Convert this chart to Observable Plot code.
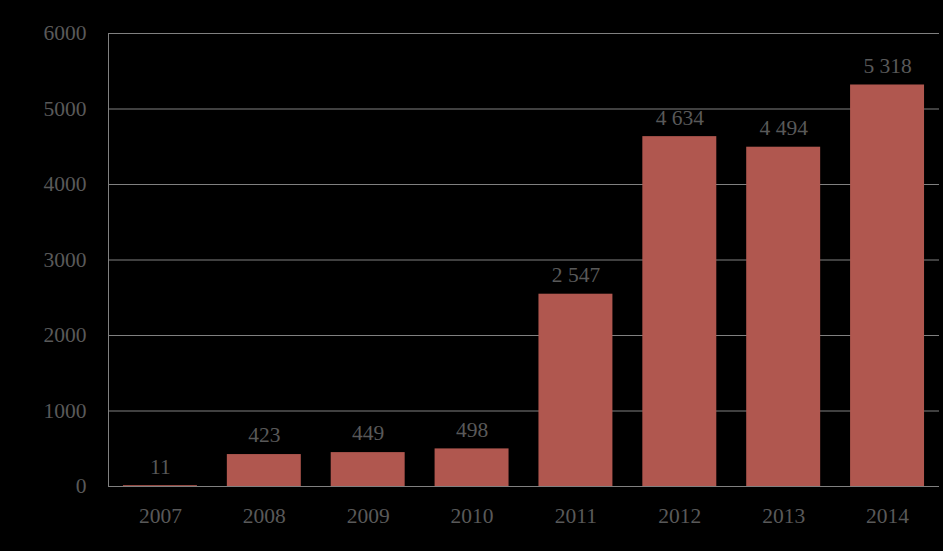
<!DOCTYPE html>
<html>
<head>
<meta charset="utf-8">
<script src="https://cdn.jsdelivr.net/npm/d3@7"></script>
<script src="https://cdn.jsdelivr.net/npm/@observablehq/plot@0.6"></script>
<style>
  html, body { margin: 0; padding: 0; background: #000; }
  #chart svg { display: block; }
</style>
</head>
<body>
<div id="chart"></div>
<script>
const years = ["2007", "2008", "2009", "2010", "2011", "2012", "2013", "2014"];
const values = [11, 423, 449, 498, 2547, 4634, 4494, 5318];
const yTicks = [0, 1000, 2000, 3000, 4000, 5000, 6000];

const data = years.map((y, i) => ({year: y, value: values[i]}));
const fmt = v => String(v).replace(/\B(?=(\d{3})+(?!\d))/g, " ");

const gridColor = "#808080";
const textColor = "#595959";
const font = "'Liberation Serif', 'Times New Roman', serif";
const fs = 21.5;

const chart = Plot.plot({
  width: 943,
  height: 551,
  marginLeft: 108,
  marginRight: 4,
  marginTop: 33,
  marginBottom: 65,
  style: {background: "#000", fontFamily: font, fontSize: fs + "px", color: textColor},
  x: {domain: years, paddingInner: 0.288, paddingOuter: 0.144, round: false, label: null},
  y: {domain: [0, 6000], ticks: yTicks, label: null},
  marks: [
    Plot.gridY(yTicks, {stroke: gridColor, strokeOpacity: 1, strokeWidth: 1}),
    Plot.frame({anchor: "left", stroke: gridColor}),
    Plot.barY(data, {x: "year", y: "value", fill: "#b0574f"}),
    Plot.ruleY([0], {stroke: gridColor}),
    Plot.text(data, {x: "year", y: "value", text: d => fmt(d.value), dy: -19, fill: textColor, fontSize: fs, fontFamily: font}),
    Plot.axisX({tickSize: 0, tickPadding: 21, fill: textColor, fontSize: fs, fontFamily: font}),
    Plot.axisY(yTicks, {tickSize: 0, tickPadding: 22, fill: textColor, fontSize: fs, fontFamily: font, tickFormat: d => String(d)})
  ]
});
document.getElementById("chart").appendChild(chart);
</script>
</body>
</html>
